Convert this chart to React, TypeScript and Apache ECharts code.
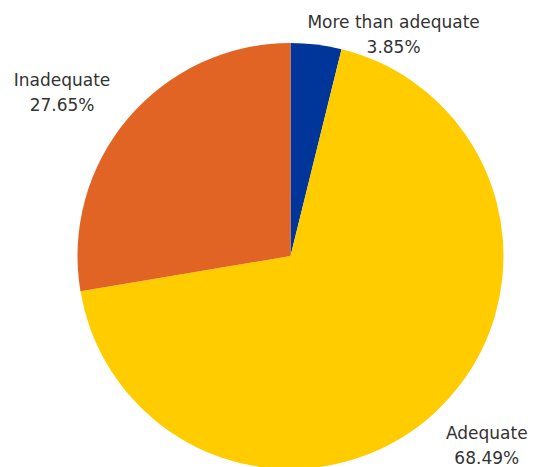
import React, { useEffect, useRef } from "react";
import * as echarts from "echarts";

const categories = ["More than adequate", "Adequate", "Inadequate"];
const values = [3.85, 68.49, 27.65];
const colors = ["#00359A", "#FFCC00", "#E26424"];
// per-slice label line lengths (label placement only, lines hidden)
const lineLen1 = [10, 45, 40];
const lineLen2 = [-15, -25, -18];

export default function App() {
  const ref = useRef<HTMLDivElement>(null);
  useEffect(() => {
    if (!ref.current) return;
    const chart = echarts.init(ref.current, null, { renderer: "svg" });
    chart.setOption({
      animation: false,
      series: [
        {
          type: "pie",
          center: [290.5, 256],
          radius: 213,
          startAngle: 90,
          clockwise: true,
          avoidLabelOverlap: false,
          emphasis: { disabled: true },
          itemStyle: { borderWidth: 0 },
          label: {
            show: true,
            position: "outside",
            distanceToLabelLine: 5,
            color: "#333",
            fontFamily: "DejaVu Sans",
            fontSize: 17,
            formatter: (p: any) =>
              `{a|${p.name}}\n{a|${Number(p.value).toFixed(2)}%}`,
            rich: {
              a: {
                align: "center",
                color: "#333",
                fontFamily: "DejaVu Sans",
                fontSize: 17,
                lineHeight: 25,
              },
            },
          },
          labelLine: { show: false },
          data: categories.map((name, i) => ({
            name,
            value: values[i],
            itemStyle: { color: colors[i] },
            labelLine: { show: false, length: lineLen1[i], length2: lineLen2[i] },
          })),
        },
      ],
    });
    return () => chart.dispose();
  }, []);
  return (
    <div
      ref={ref}
      style={{ position: "absolute", left: 0, top: 0, width: 534, height: 467 }}
    />
  );
}
